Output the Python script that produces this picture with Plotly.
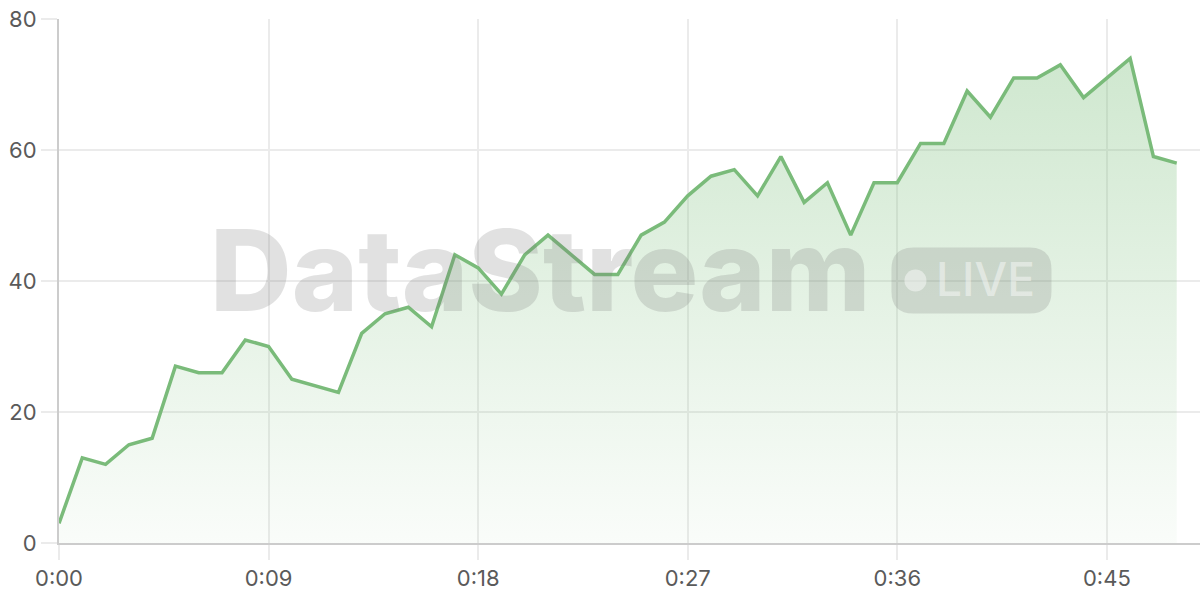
import plotly.graph_objects as go

seconds = list(range(49))
values = [3, 13, 12, 15, 16, 27, 26, 26, 31, 30, 25, 24, 23, 32, 35, 36, 33,
          44, 42, 38, 44, 47, 44, 41, 41, 47, 49, 53, 56, 57, 53, 59, 52, 55,
          47, 55, 55, 61, 61, 69, 65, 71, 71, 73, 68, 71, 74, 59, 58]

tick_vals = [0, 9, 18, 27, 36, 45]
tick_text = ["0:00", "0:09", "0:18", "0:27", "0:36", "0:45"]

line_green = "rgb(122,187,122)"

fig = go.Figure()
fig.add_trace(go.Scatter(
    x=seconds, y=values, mode="lines",
    line=dict(color=line_green, width=3.5),
    fill="tozeroy",
    fillgradient=dict(
        type="vertical",
        colorscale=[[0, "rgba(122,190,122,0.04)"], [1, "rgba(122,190,122,0.36)"]],
    ),
    hoverinfo="skip",
    showlegend=False,
))

# watermark
wm = "rgba(120,120,120,0.22)"
fig.add_annotation(
    text="DataStream", xref="paper", yref="paper", x=0.4216, y=0.521,
    showarrow=False, xanchor="center", yanchor="middle",
    font=dict(family="Inter", size=113, color=wm, weight=800),
)
px_, py_ = 0.7997, 0.501
w, h, r = 80, 33, 22
pill = (f"M {-w + r},{-h} L {w - r},{-h} Q {w},{-h} {w},{-h + r} L {w},{h - r} "
        f"Q {w},{h} {w - r},{h} L {-w + r},{h} Q {-w},{h} {-w},{h - r} "
        f"L {-w},{-h + r} Q {-w},{-h} {-w + r},{-h} Z")
fig.add_shape(type="path", path=pill, xref="paper", yref="paper",
              xsizemode="pixel", ysizemode="pixel", xanchor=px_, yanchor=py_,
              fillcolor=wm, line=dict(width=0), layer="above")
fig.add_shape(type="circle", xref="paper", yref="paper",
              xsizemode="pixel", ysizemode="pixel", xanchor=px_, yanchor=py_,
              x0=-67, x1=-45, y0=-11, y1=11,
              fillcolor="rgba(255,255,255,0.45)", line=dict(width=0), layer="above")
fig.add_annotation(
    text="LIVE", xref="paper", yref="paper", x=px_, y=py_, xshift=14, yshift=1,
    showarrow=False, xanchor="center", yanchor="middle",
    font=dict(family="Inter", size=46, color="rgba(255,255,255,0.45)", weight=500),
)

fig.update_layout(
    width=1200, height=600,
    margin=dict(l=59, r=0, t=19, b=57),
    paper_bgcolor="white", plot_bgcolor="white",
    font=dict(family="Inter", size=22, color="#5a5a5a"),
    xaxis=dict(
        range=[0, 49], tickvals=tick_vals, ticktext=tick_text,
        showgrid=True, gridcolor="#ebebeb", gridwidth=1.5,
        ticks="outside", ticklen=15, tickcolor="#ebebeb", tickwidth=1.5,
        showline=True, linecolor="#cccccc", linewidth=2,
        zeroline=False, fixedrange=True, automargin=False,
    ),
    yaxis=dict(
        range=[0, 80], dtick=20,
        showgrid=True, gridcolor="#ebebeb", gridwidth=1.5,
        ticks="outside", ticklen=16, tickcolor="#ebebeb", tickwidth=1.5,
        showline=True, linecolor="#cccccc", linewidth=2,
        zeroline=False, fixedrange=True, automargin=False,
    ),
)

fig.write_html("out.html", config={"displayModeBar": False},
               post_script="document.body.style.margin='0';")
